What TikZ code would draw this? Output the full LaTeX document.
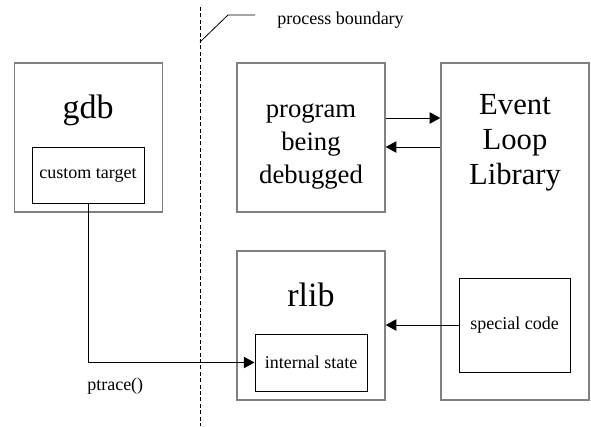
\documentclass[tikz,border=0pt]{standalone}
\usepackage{fontspec}
\setmainfont{Liberation Serif}
\usepackage{tikz}
\usetikzlibrary{calc}
\usetikzlibrary{arrows.meta}
\tikzset{outer/.style={draw=black!50, line width=1pt, minimum width=111pt, minimum height=111.75pt, inner sep=0pt},
        inner/.style={draw=black, line width=0.75pt, minimum width=84pt, minimum height=42pt, inner sep=0pt, font=\fontsize{13.5}{16}\selectfont},
        title/.style={inner sep=0pt, anchor=base, font=\fontsize{25.5}{30}\selectfont},
        mtitle/.style={inner sep=0pt, anchor=base, align=center, font=\fontsize{20}{24.75}\selectfont},
        lbl/.style={inner sep=0pt, font=\fontsize{13.5}{16}\selectfont},
        conn/.style={line width=0.75pt, -{Triangle[length=8pt, width=8.5pt]}}}

\begin{document}
\begin{tikzpicture}[x=0.75pt, y=-0.75pt]
    \useasboundingbox (0,0) rectangle (591,426);

    % outer boxes
    \node[outer] (gdb) at (88.5,137.5) {};
    \node[outer] (prog) at (311,137.5) {};
    \node[outer] (rlib) at (311,325.5) {};
    \node[outer, minimum height=252.75pt] (evl) at (515,231.5) {};

    % titles (base = last line)
    \node[title] (gdbt) at (88,118) {gdb};
    \node[title] (rlibt) at (311,306) {rlib};
    \node[mtitle] (progt) at (311,183) {program\\being\\debugged};
    \node[mtitle, font=\fontsize{23}{26}\selectfont] (evlt) at (515,184) {Event\\Loop\\Library};

    % inner boxes
    \node[inner] (tgt) at (88,175) {custom target};
    \node[inner, minimum height=42.75pt] (state) at (311,362.5) {internal state};
    \node[inner, minimum width=83.25pt, minimum height=70.5pt] (spc) at (514.5,325) {special code};

    % process boundary
    \draw[line width=0.75pt, dash pattern=on 3pt off 1.8pt] (200,7) -- (200,426);
    \coordinate (pb) at (255,15);
    \draw[line width=0.6pt] (200,42) -- (228,15) -- (pb);
    \node[lbl, anchor=west] (pbt) at ($(pb)+(22,5)$) {process boundary};

    % connectors
    \draw[conn] (prog.east |- 0,118) -- (evl.west |- 0,118);
    \draw[conn] (evl.west |- 0,147) -- (prog.east |- 0,147);
    \draw[conn] (spc.west) -- (rlib.east |- spc.west);
    \draw[conn] (tgt.south) |- (state.west);
    \node[lbl, anchor=west] (ptr) at (87,386) {ptrace()};
\end{tikzpicture}
\end{document}
